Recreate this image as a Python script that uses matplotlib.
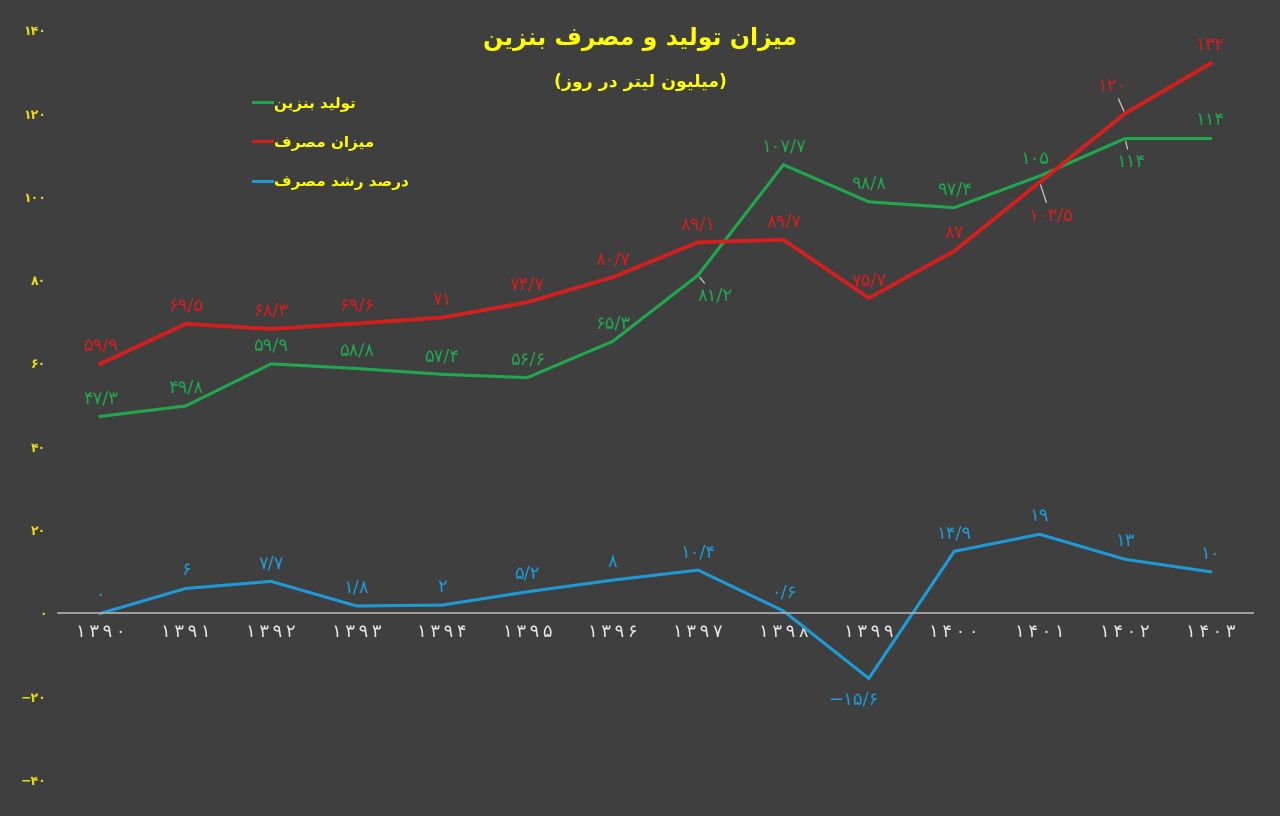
import matplotlib
matplotlib.use("Agg")
import matplotlib.pyplot as plt
from matplotlib.lines import Line2D

years = list(range(1390, 1404))
production = [47.3, 49.8, 59.9, 58.8, 57.4, 56.6, 65.3, 81.2, 107.7, 98.8, 97.4, 105, 114, 114]
consumption = [59.9, 69.5, 68.3, 69.6, 71, 74.7, 80.7, 89.1, 89.7, 75.7, 87, 103.5, 120, 132]
growth = [0, 6, 7.7, 1.8, 2, 5.2, 8, 10.4, 0.6, -15.6, 14.9, 19, 13, 10]
y_ticks = [-40, -20, 0, 20, 40, 60, 80, 100, 120, 140]

title = "میزان تولید و مصرف بنزین"
subtitle = "(میلیون لیتر در روز)"
series_names = ["تولید بنزین", "میزان مصرف", "درصد رشد مصرف"]

BG = "#3f3f3f"
GREEN = "#20a84f"
RED = "#d41f1f"
BLUE = "#1e9bd7"
YELLOW = "#ffff00"
TICK_YELLOW = "#e8dc1a"

# isolated, final, initial, medial presentation forms
FORMS = {
    "ا": ("\uFE8D", "\uFE8E", None, None),
    "ب": ("\uFE8F", "\uFE90", "\uFE91", "\uFE92"),
    "ت": ("\uFE95", "\uFE96", "\uFE97", "\uFE98"),
    "د": ("\uFEA9", "\uFEAA", None, None),
    "ر": ("\uFEAD", "\uFEAE", None, None),
    "ز": ("\uFEAF", "\uFEB0", None, None),
    "ش": ("\uFEB5", "\uFEB6", "\uFEB7", "\uFEB8"),
    "ص": ("\uFEB9", "\uFEBA", "\uFEBB", "\uFEBC"),
    "ف": ("\uFED1", "\uFED2", "\uFED3", "\uFED4"),
    "ل": ("\uFEDD", "\uFEDE", "\uFEDF", "\uFEE0"),
    "م": ("\uFEE1", "\uFEE2", "\uFEE3", "\uFEE4"),
    "ن": ("\uFEE5", "\uFEE6", "\uFEE7", "\uFEE8"),
    "و": ("\uFEED", "\uFEEE", None, None),
    "ی": ("\uFBFC", "\uFBFD", "\uFEF3", "\uFEF4"),
}


def fa_text(s):
    out = []
    for i, c in enumerate(s):
        if c not in FORMS:
            out.append(c)
            continue
        prev = s[i - 1] if i > 0 else None
        nxt = s[i + 1] if i + 1 < len(s) else None
        jp = prev in FORMS and FORMS[prev][2] is not None
        jn = nxt in FORMS and FORMS[c][2] is not None
        iso, fin, ini, med = FORMS[c]
        if jp and jn:
            out.append(med)
        elif jp:
            out.append(fin)
        elif jn:
            out.append(ini)
        else:
            out.append(iso)
    res = "".join(reversed(out))
    return res.replace("(", "\0").replace(")", "(").replace("\0", ")")


FA_DIGITS = str.maketrans("0123456789.-", "۰۱۲۳۴۵۶۷۸۹/−")


def fa_num(v, spaced=False):
    s = f"{v:g}".translate(FA_DIGITS)
    return "\u2009".join(s) if spaced else s


plt.rcParams["font.family"] = ["DejaVu Sans"]

fig = plt.figure(figsize=(12.8, 8.16), dpi=100, facecolor=BG)
ax = fig.add_axes([0.045, 0.044, 0.934, 0.919])
ax.set_facecolor(BG)

x = list(range(len(years)))
ax.plot(x, production, color=GREEN, lw=2.2, solid_joinstyle="miter")
ax.plot(x, consumption, color=RED, lw=2.8, solid_joinstyle="miter")
ax.plot(x, growth, color=BLUE, lw=2.2, solid_joinstyle="miter")

ax.set_xlim(-0.5, len(years) - 0.5)
ax.set_ylim(-40, 140)

for side in ["top", "right", "left"]:
    ax.spines[side].set_visible(False)
ax.spines["bottom"].set_position(("data", 0))
ax.spines["bottom"].set_color("#a8a8a8")
ax.spines["bottom"].set_linewidth(1.3)

ax.set_xticks(x)
ax.set_xticklabels([fa_num(y, spaced=True) for y in years], color="#e6e6e6",
                   fontsize=13)
ax.set_yticks(y_ticks)
ax.set_yticklabels([fa_num(v) for v in y_ticks], color=TICK_YELLOW,
                   fontsize=9, fontweight="bold")
ax.tick_params(axis="both", length=0)
ax.tick_params(axis="x", pad=7)
ax.tick_params(axis="y", pad=8)

# label offsets in points; default is straight above the point
leader = dict(arrowstyle="-", color="#c8c8c8", lw=0.9, shrinkA=1, shrinkB=2)
special = {
    ("p", 7): (12, -15, True),
    ("p", 11): (-3, 12, False),
    ("p", 12): (4, -17, True),
    ("c", 11): (8, -24, True),
    ("c", 12): (-9, 20, True),
    ("g", 9): (-11, -15, False),
}
for key, values, color in [("p", production, GREEN), ("c", consumption, RED), ("g", growth, BLUE)]:
    for i, v in enumerate(values):
        dx, dy, line = special.get((key, i), (0, 13, False))
        ax.annotate(fa_num(v), xy=(i, v), xytext=(dx, dy), textcoords="offset points",
                    ha="center", va="center", color=color, fontsize=13,
                    arrowprops=leader if line else None)

fig.text(0.5, 0.952, fa_text(title), ha="center", va="center", color=YELLOW,
         fontsize=17, fontweight="bold")
fig.text(0.5, 0.9, fa_text(subtitle), ha="center", va="center", color=YELLOW,
         fontsize=12.5, fontweight="bold")

handles = [Line2D([], [], color=c, lw=2.2) for c in (GREEN, RED, BLUE)]
leg = ax.legend(handles, [fa_text(n) for n in series_names], loc="upper left",
                bbox_to_anchor=(0.192, 0.893), bbox_transform=fig.transFigure,
                frameon=False, fontsize=11, handlelength=1.2, handletextpad=0.15,
                labelspacing=1.55, borderpad=0)
for t in leg.get_texts():
    t.set_color(YELLOW)
    t.set_fontweight("bold")

fig.savefig("out.png", dpi=100, facecolor=BG)
